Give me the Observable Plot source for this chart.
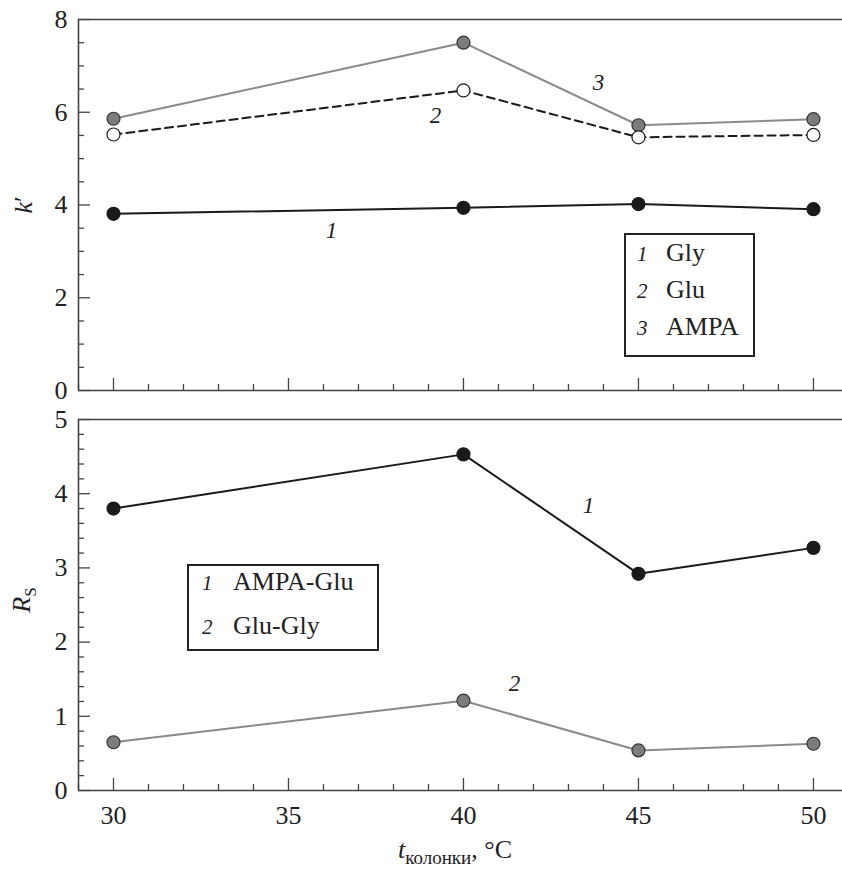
<!DOCTYPE html>
<html><head><meta charset="utf-8">
<script src="https://cdn.jsdelivr.net/npm/d3@7"></script>
<script src="https://cdn.jsdelivr.net/npm/@observablehq/plot@0.6"></script>
<style>
html,body{margin:0;padding:0;background:#fff;}
#wrap{position:relative;width:842px;height:872px;color:#222;}
#top,#bot{position:absolute;left:0;}
#top{top:0;} #bot{top:400px;}
.legend{position:absolute;border:2px solid #222;background:#fff;box-sizing:border-box;}
.row{position:absolute;font-size:26px;white-space:nowrap;line-height:1.1;}
.num{position:absolute;font-style:italic;font-size:21px;line-height:1.1;}
.title{position:absolute;font-size:26px;white-space:nowrap;}
</style></head>
<body><div id="wrap"><div id="top"></div><div id="bot"></div></div>
<script>
// ---- data ----
const temps = [30, 40, 45, 50];
const kGly  = [3.81, 3.94, 4.02, 3.91];
const kGlu  = [5.52, 6.47, 5.46, 5.51];
const kAMPA = [5.86, 7.50, 5.72, 5.85];
const rsAmpaGlu = [3.80, 4.53, 2.92, 3.27];
const rsGluGly  = [0.65, 1.21, 0.54, 0.63];
const xTicks  = [30, 35, 40, 45, 50];
const kTicks  = [0, 2, 4, 6, 8];
const rsTicks = [0, 1, 2, 3, 4, 5];
const topLegend = [["1", "Gly"], ["2", "Glu"], ["3", "AMPA"]];
const botLegend = [["1", "AMPA-Glu"], ["2", "Glu-Gly"]];
const topAnnot = [{x: 43.86, y: 6.64, t: "3"}, {x: 39.2, y: 5.93, t: "2"}, {x: 36.23, y: 3.45, t: "1"}];
const botAnnot = [{x: 43.57, y: 3.84, t: "1"}, {x: 41.46, y: 1.44, t: "2"}];

const FONT = "Liberation Serif";
const xDomain = [29, 50.83];
const xMinor = d3.range(29, 51, 1).filter(v => !xTicks.includes(v));
const kMinor = d3.range(0.5, 8, 0.5).filter(v => !kTicks.includes(v));
const rsMinor = d3.range(0.2, 5, 0.2).map(v => +v.toFixed(1)).filter(v => !rsTicks.includes(v));

const rows = vals => temps.map((t, i) => ({t, v: vals[i]}));
const BLACK = "#1a1a1a", GRAY = "#8a8a8a", GFILL = "#7c7c7c", AX = "#444";

function panel({height, marginTop, marginBottom, yDomain, yTicks, yMinor, series, annot, showX}) {
  const W = 842, ML = 78, MR = 0;
  const innerH = height - marginTop - marginBottom;
  const innerW = W - ML - MR;
  const marks = [
    Plot.ruleX(xMinor, {x: d => d, stroke: AX, strokeWidth: 1.3, insetTop: innerH - 6}),
    Plot.ruleX(xTicks, {x: d => d, stroke: AX, strokeWidth: 1.3, insetTop: innerH - 12}),
    Plot.ruleY(yMinor, {y: d => d, stroke: AX, strokeWidth: 1.3, insetRight: innerW - 6}),
    Plot.ruleY(yTicks, {y: d => d, stroke: AX, strokeWidth: 1.3, insetRight: innerW - 12}),
    Plot.ruleX([xDomain[0]], {x: d => d, stroke: AX, strokeWidth: 1.6}),
    Plot.ruleY([yDomain[0]], {y: d => d, stroke: AX, strokeWidth: 1.6}),
    Plot.ruleY([yDomain[1]], {y: d => d, stroke: AX, strokeWidth: 1.6})
  ];
  for (const s of series) {
    marks.push(Plot.line(rows(s.vals), {x: "t", y: "v", stroke: s.stroke, strokeWidth: 2, strokeDasharray: s.dash || null}));
  }
  for (const s of series) {
    marks.push(Plot.dot(rows(s.vals), {x: "t", y: "v", r: 6.5, fill: s.fill, stroke: s.dotStroke, strokeWidth: 1.2}));
  }
  marks.push(Plot.text(annot, {x: "x", y: "y", text: "t", fontStyle: "italic", fontSize: 23, fontFamily: FONT, fill: "#222"}));
  const svg = Plot.plot({
    width: W, height, marginLeft: ML, marginRight: MR, marginTop, marginBottom,
    x: {domain: xDomain, ticks: xTicks, tickSize: 0, tickPadding: 15, tickFormat: d => d, axis: showX ? "bottom" : null, label: null},
    y: {domain: yDomain, ticks: yTicks, tickSize: 0, tickPadding: 11, tickFormat: d => d, label: null},
    style: {fontSize: "26px", fontFamily: FONT, color: "#222", background: "transparent", overflow: "visible"},
    marks
  });
  return svg;
}

document.getElementById("top").appendChild(panel({
  height: 400, marginTop: 19, marginBottom: 10, yDomain: [0, 8], yTicks: kTicks, yMinor: kMinor,
  series: [
    {vals: kAMPA, stroke: GRAY, fill: GFILL, dotStroke: "#333"},
    {vals: kGlu, stroke: BLACK, fill: "#fff", dotStroke: BLACK, dash: "8,5"},
    {vals: kGly, stroke: BLACK, fill: BLACK, dotStroke: BLACK}
  ],
  annot: topAnnot, showX: false
}));
document.getElementById("bot").appendChild(panel({
  height: 472, marginTop: 19, marginBottom: 82, yDomain: [0, 5], yTicks: rsTicks, yMinor: rsMinor,
  series: [
    {vals: rsAmpaGlu, stroke: BLACK, fill: BLACK, dotStroke: BLACK},
    {vals: rsGluGly, stroke: GRAY, fill: GFILL, dotStroke: "#333"}
  ],
  annot: botAnnot, showX: true
}));

const wrap = document.getElementById("wrap");
function legend(items, left, top, w, h, numX, txtX, rowTop, rowStep) {
  const box = document.createElement("div");
  box.className = "legend";
  Object.assign(box.style, {left: left + "px", top: top + "px", width: w + "px", height: h + "px"});
  items.forEach(([n, name], i) => {
    const num = document.createElement("div");
    num.className = "num"; num.textContent = n; num.style.fontFamily = FONT;
    Object.assign(num.style, {left: numX + "px", top: (rowTop + i * rowStep + 4) + "px"});
    const t = document.createElement("div");
    t.className = "row"; t.textContent = name; t.style.fontFamily = FONT;
    Object.assign(t.style, {left: txtX + "px", top: (rowTop + i * rowStep) + "px"});
    box.appendChild(num); box.appendChild(t);
  });
  wrap.appendChild(box);
}
legend(topLegend, 624, 233, 131, 124, 11, 40, 4, 37);
legend(botLegend, 187, 564, 192, 87, 13, 44, 2, 44);

function title(html, left, top, rotate) {
  const d = document.createElement("div");
  d.className = "title"; d.innerHTML = html; d.style.fontFamily = FONT;
  Object.assign(d.style, {left: left + "px", top: top + "px"});
  d.style.transform = rotate ? "translate(-50%,-50%) rotate(-90deg)" : "translate(-50%,-50%)";
  wrap.appendChild(d);
}
title("<i>k</i>′", 24, 205, true);
title("<i>R</i><sub style='font-size:17px'>S</sub>", 24, 600, true);
title("<i>t</i><sub style='font-size:19px'>колонки</sub>, °C", 455, 852, false);
</script>
</body></html>
